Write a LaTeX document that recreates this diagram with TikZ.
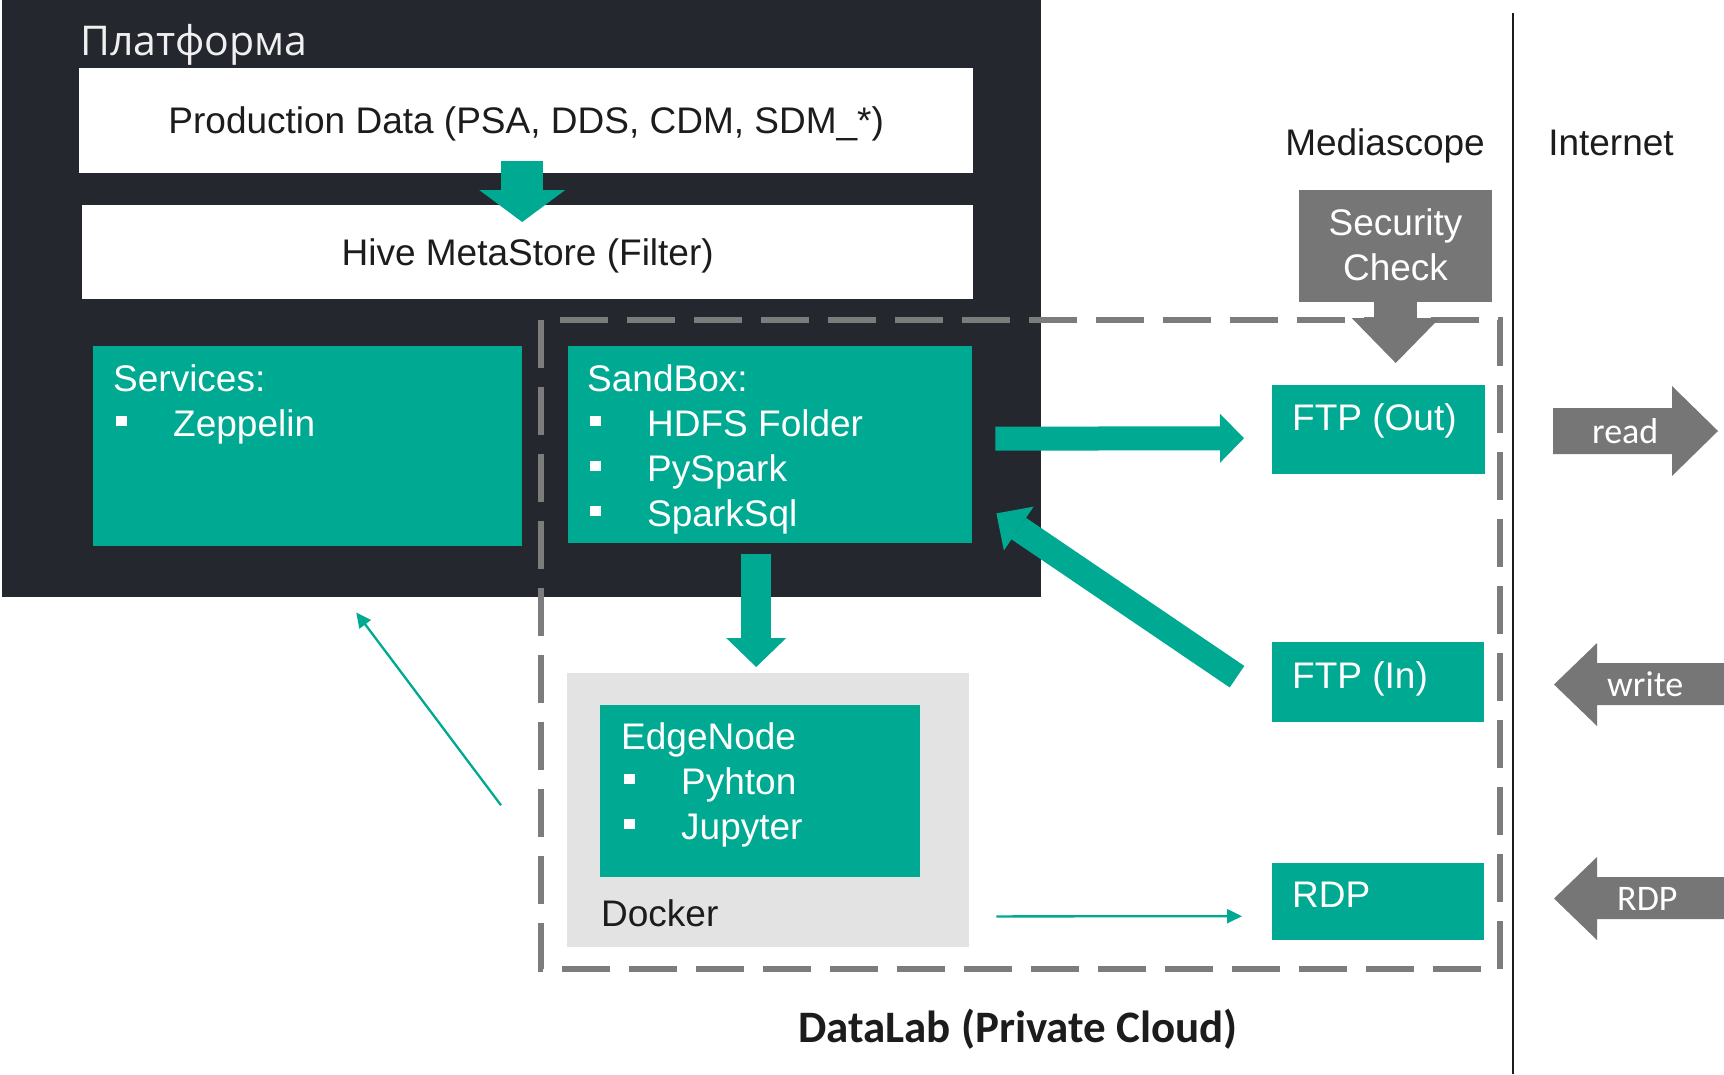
\documentclass[tikz,border=0pt]{standalone}
\usepackage{fontspec}
\setmainfont{Liberation Sans}
\newfontfamily\labelfont{Carlito}
\newfontfamily\titlefont{Open Sans}
\usepackage{xcolor}
\usepackage{tikz}
\usetikzlibrary{arrows.meta}

\definecolor{dlteal}{HTML}{00A992}
\definecolor{dlgray}{HTML}{767676}
\definecolor{dldark}{HTML}{24272E}
\definecolor{dldash}{HTML}{7C7C7C}
\definecolor{dldocker}{HTML}{E3E3E3}
\definecolor{dltext}{HTML}{1C1C1C}

\newcommand{\sqbullet}{\makebox[60pt][l]{\hspace{3pt}\rule[10pt]{11pt}{10pt}}}

\tikzset{
    whitebox/.style={rectangle, fill=white, anchor=north west, inner sep=0pt, text=dltext, text height=26.5pt, text depth=0pt, font=\fontsize{37}{45}\selectfont},
    tealbox/.style={rectangle, fill=dlteal, anchor=north west, inner sep=0pt},
    graybox/.style={rectangle, fill=dlgray, anchor=north west, inner sep=0pt},
    dockerbox/.style={rectangle, fill=dldocker, anchor=north west, inner sep=0pt},
    boxtext/.style={anchor=base west, inner sep=0pt, text=white, font=\fontsize{37}{45}\selectfont},
    darktext/.style={boxtext, text=dltext},
    sidetext/.style={anchor=base west, inner sep=0pt, text=white, font=\labelfont\fontsize{36}{43}\selectfont},
    blockarrow/.style n args={4}{draw=#1, line width=#2, -{Triangle[width=#3, length=#4, line width=0pt]}},
    thinarrow/.style={draw=dlteal, line width=2.3pt, -{Triangle[width=14pt, length=15pt]}},
    cloudframe/.style={draw=dldash, line width=5.5pt, dash pattern=on 48pt off 19pt},
    sidearrow/.style={fill=dlgray}
}

\begin{document}
\begin{tikzpicture}[x=1pt, y=-1pt]
    \useasboundingbox (0,0) rectangle (1724,1074);

    % Platform
    \fill[dldark] (2,0) rectangle (1041,597);
    \node[anchor=base west, inner sep=0pt, text=white!94!black, font=\titlefont\fontsize{41}{48}\selectfont] (Platform) at (80,55) {Платформа};

    % DataLab frame
    \draw[cloudframe] (541,320) rectangle (1500,969);
    \node[anchor=base, inner sep=0pt, text=dltext, font=\labelfont\bfseries\fontsize{45}{52}\selectfont] (DataLab) at (1018,1042) {DataLab (Private Cloud)};

    % Mediascope | Internet
    \draw[dltext, line width=2.5pt] (1513,13) -- (1513,1074);
    \node[darktext, anchor=base] (Mediascope) at (1385,155) {Mediascope};
    \node[darktext, anchor=base] (Internet) at (1611,155) {Internet};

    % Platform boxes
    \node[whitebox, minimum width=894pt, minimum height=105pt] (ProdData) at (79,68) {Production Data (PSA, DDS, CDM, SDM\_*)};
    \node[whitebox, minimum width=891pt, minimum height=94pt] (HiveStore) at (82,205) {Hive MetaStore (Filter)};
    \node[tealbox, minimum width=429pt, minimum height=200pt] (Services) at (93,346) {};
    \node[boxtext] (ServicesText) at (113,391) {\begin{tabular}[t]{@{}l@{}}Services:\\\sqbullet Zeppelin\end{tabular}};
    \node[tealbox, minimum width=404pt, minimum height=197pt] (SandBox) at (568,346) {};
    \node[boxtext] (SandBoxText) at (587,391) {\begin{tabular}[t]{@{}l@{}}SandBox:\\\sqbullet HDFS Folder\\\sqbullet PySpark\\\sqbullet SparkSql\end{tabular}};

    % Docker
    \node[dockerbox, minimum width=402pt, minimum height=274pt] (Docker) at (567,673) {};
    \node[tealbox, minimum width=320pt, minimum height=172pt] (EdgeNode) at (600,705) {};
    \node[boxtext] (EdgeNodeText) at (621,749) {\begin{tabular}[t]{@{}l@{}}EdgeNode\\\sqbullet Pyhton\\\sqbullet Jupyter\end{tabular}};
    \node[darktext] (DockerText) at (601,926) {Docker};

    % Mediascope side
    \node[graybox, minimum width=193pt, minimum height=112pt] (SecCheck) at (1299,190) {};
    \node[boxtext, anchor=base] (SecCheckText) at (1395.5,235) {\begin{tabular}[t]{@{}c@{}}Security\\Check\end{tabular}};
    \node[tealbox, minimum width=213pt, minimum height=89pt] (FtpOut) at (1272,385) {};
    \node[boxtext] (FtpOutText) at (1292,430) {FTP (Out)};
    \node[tealbox, minimum width=212pt, minimum height=80pt] (FtpIn) at (1272,642) {};
    \node[boxtext] (FtpInText) at (1292,688) {FTP (In)};
    \node[tealbox, minimum width=212pt, minimum height=77pt] (Rdp) at (1272,863) {};
    \node[boxtext] (RdpText) at (1292,907) {RDP};

    % Flows
    \draw[blockarrow={dlteal}{42pt}{86pt}{32pt}] ([xshift=-4pt,yshift=12pt]ProdData.south) -- ([xshift=-5.5pt,yshift=-17pt]HiveStore.north);
    \draw[blockarrow={dlteal}{30pt}{60pt}{29pt}] ([xshift=-14pt,yshift=-11pt]SandBox.south) -- ([xshift=-12pt,yshift=6pt]Docker.north);
    \draw[blockarrow={dlteal}{24pt}{49pt}{24pt}] ([xshift=23pt,yshift=6pt]SandBox.east) -- ([xshift=-28pt,yshift=-8.5pt]FtpOut.west);
    \draw[blockarrow={dlteal}{26pt}{53pt}{27pt}] ([xshift=-35pt,yshift=5.5pt]FtpIn.west) -- ([xshift=24pt,yshift=30pt]SandBox.south east);
    \draw[blockarrow={dlgray}{43pt}{88pt}{45pt}] ([yshift=2pt]SecCheck.south) -- ([xshift=17pt,yshift=22pt]FtpOut.north);
    \draw[thinarrow] ([xshift=27pt,yshift=31pt]Docker.south east) -- ([xshift=-30pt,yshift=-14.5pt]Rdp.west);
    \draw[thinarrow] ([xshift=-66pt,yshift=5pt]Docker.west) -- ([xshift=48.5pt,yshift=-66pt]Services.south);

    % Internet side
    \fill[sidearrow] (1553,408) -- (1672,408) -- (1672,386) -- (1718,431) -- (1672,476) -- (1672,454) -- (1553,454) -- cycle;
    \node[sidetext] (Read) at (1592,443) {read};
    \fill[sidearrow] (1724,663) -- (1597,663) -- (1597,643) -- (1554,684.5) -- (1597,726) -- (1597,705) -- (1724,705) -- cycle;
    \node[sidetext] (Write) at (1607,696) {write};
    \fill[sidearrow] (1724,877) -- (1597,877) -- (1597,857) -- (1554,898.5) -- (1597,940) -- (1597,919) -- (1724,919) -- cycle;
    \node[sidetext] (RdpIn) at (1617,910) {RDP};
\end{tikzpicture}
\end{document}
